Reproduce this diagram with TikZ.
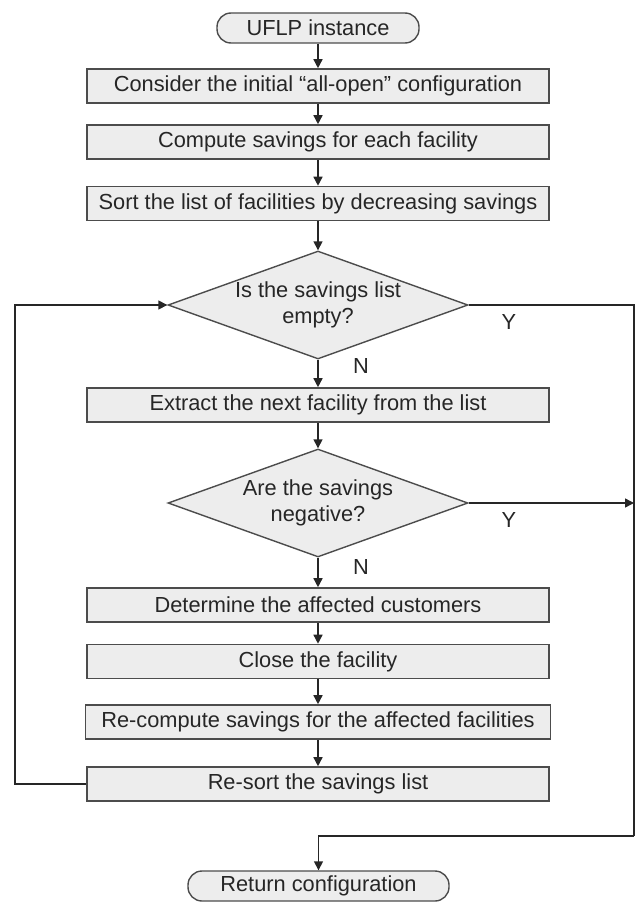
\documentclass[tikz,border=0pt]{standalone}
\usepackage{fontspec}
\setmainfont{Liberation Sans}
\usetikzlibrary{shapes.geometric,arrows.meta}

\definecolor{boxfill}{gray}{0.93}
\definecolor{boxedge}{gray}{0.3}
\definecolor{flowline}{gray}{0.15}

\begin{document}
\begin{tikzpicture}[x=1pt,y=-1pt,
    every node/.style={font=\fontsize{21.8}{26}\selectfont, text=black!85},
    process/.style={draw=boxedge, fill=boxfill, line width=1.6pt, minimum width=462pt, minimum height=34pt, inner sep=0pt},
    decision/.style={diamond, draw=boxedge, fill=boxfill, line width=1.4pt, aspect=2.7, minimum width=300pt, minimum height=108pt, inner sep=0pt, align=center},
    terminal/.style={draw=boxedge, fill=boxfill, line width=1.4pt, rounded corners=14pt, minimum height=30pt, inner sep=0pt},
    flow/.style={draw=flowline, line width=1.5pt, -{Triangle[length=9pt,width=9pt]}},
    line/.style={draw=flowline, line width=1.5pt}]

        \useasboundingbox (0,0) rectangle (635,902);

        \node[terminal, minimum width=202pt] (start) at (318,28) {UFLP instance};
        \node[process] (init) at (318,86) {Consider the initial “all-open” configuration};
        \node[process] (comp) at (318,142) {Compute savings for each facility};
        \node[process] (sort) at (318,203.5) {Sort the list of facilities by decreasing savings};
        \node[decision] (empty) at (318,305) {Is the savings list\\empty?};
        \node[process] (extr) at (318,405) {Extract the next facility from the list};
        \node[decision] (neg) at (318,503) {Are the savings\\negative?};
        \node[process] (cust) at (318,605) {Determine the affected customers};
        \node[process] (close) at (318,661.5) {Close the facility};
        \node[process, minimum width=465pt] (recomp) at (318,722) {Re-compute savings for the affected facilities};
        \node[process] (resort) at (318,784) {Re-sort the savings list};
        \node[terminal, minimum width=261pt] (ret) at (318.5,886) {Return configuration};

        \coordinate (loopL) at (15,784);
        \coordinate (rightT) at (634,305);
        \coordinate (rightM) at (634,503);
        \coordinate (rightB) at (634,836);

        \draw[flow] (start) -- (init);
        \draw[flow] (init) -- (comp);
        \draw[flow] (comp) -- (sort);
        \draw[flow] (sort) -- (empty);
        \draw[flow] (empty) -- (extr);
        \draw[flow] (extr) -- (neg);
        \draw[flow] (neg) -- (cust);
        \draw[flow] (cust) -- (close);
        \draw[flow] (close) -- (recomp);
        \draw[flow] (recomp) -- (resort);

        \draw[flow] (resort.west) -- (loopL) |- (empty.west);
        \draw[line] (empty.east) -- (rightT) -- (rightB);
        \draw[flow] (rightB) -| (ret.north);
        \draw[flow] (neg.east) -- (rightM);

        \node (y1) at (509,322) {Y};
        \node (y2) at (509,520) {Y};
        \node (n1) at (361,366) {N};
        \node (n2) at (361,567) {N};

    \end{tikzpicture}
\end{document}
